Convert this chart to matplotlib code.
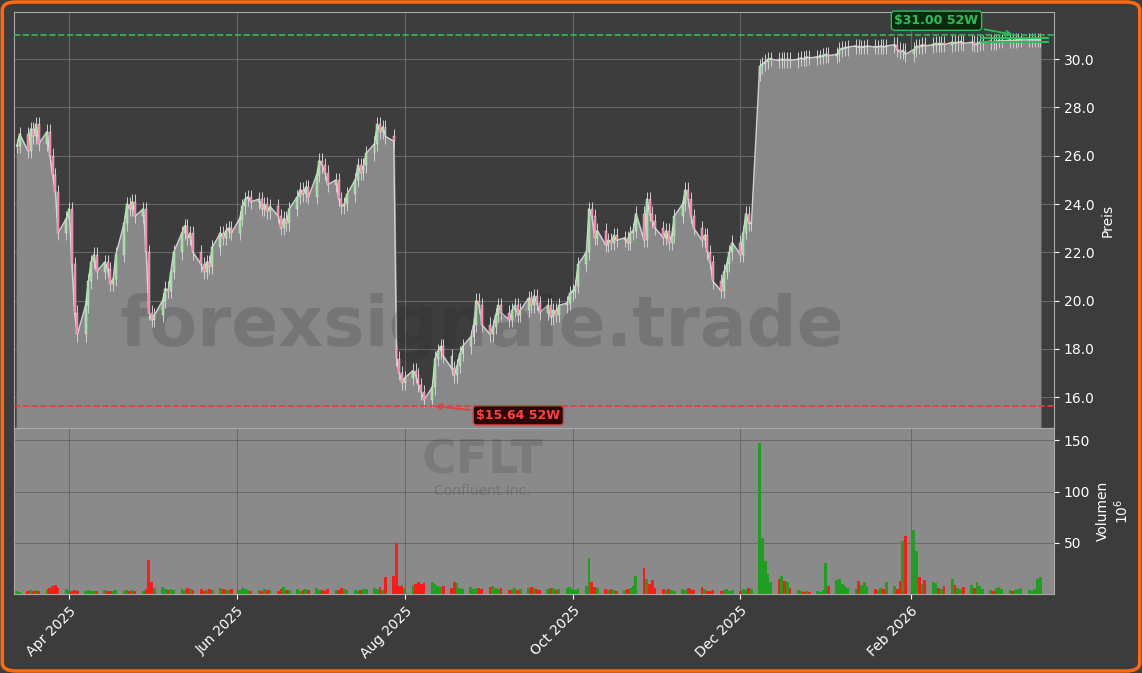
import matplotlib
matplotlib.use("Agg")
import matplotlib.pyplot as plt
import matplotlib.dates as mdates
from matplotlib.patches import FancyBboxPatch, Rectangle
import numpy as np
import pandas as pd

closes = [
26.4,26.9,26.2,27.1,26.8, 27.3,26.5,27.0,26.0,25.2, 24.5,22.8,23.4,23.8,21.5,
19.5,18.6,19.8,20.8,21.6, 21.9,21.2,21.6,21.3,20.7, 20.9,21.9,23.2,24.0,23.8,
24.1,23.5,23.8,22.0,19.5, 19.2,19.4,20.0,20.5,20.4, 21.2,22.0,22.8,23.1,22.6,
22.8,22.0,21.5,21.2,21.6, 21.4,22.2,22.8,22.6,22.9, 23.0,22.8,23.4,23.9,24.2,
24.3,24.1,24.2,23.8,24.0, 23.7,23.9,23.5,23.0,23.4, 23.2,23.8,24.3,24.6,24.4,
24.7,24.3,25.2,25.8,25.6, 25.3,24.8,25.0,24.2,23.9, 24.0,24.4,25.0,25.6,25.3,
25.6,26.1,26.5,27.3,27.0, 27.2,26.8,26.6,17.6,17.0, 16.6,16.8,17.1,16.9,16.5,
16.2,15.9,16.4,17.6,17.9, 18.1,17.7,17.2,16.9,17.3, 17.8,18.1,18.5,19.0,20.0,
19.8,19.0,18.6,18.9,19.4, 19.8,19.5,19.2,19.6,19.8, 19.4,19.6,20.1,19.8,20.2,
19.9,19.5,19.8,19.3,19.6, 19.4,19.8,19.9,20.3,20.4, 20.6,21.5,22.0,23.8,23.5,
22.6,22.9,22.3,22.5,22.4, 22.7,22.5,22.6,22.4,22.8, 22.9,23.6,22.5,24.2,23.6,
23.3,23.0,22.6,22.9,22.4, 22.7,23.5,24.0,24.6,24.2, 23.5,23.0,22.5,22.7,22.0,
21.6,20.8,20.4,21.2,21.5, 22.0,22.4,21.9,22.8,23.6, 23.2,23.2,29.7,29.8,29.9,
30.0,30.0,29.95,30.0,29.95, 30.0,29.95,30.0,30.05,30.0, 30.1,30.05,30.1,30.1,30.15,
30.2,30.15,30.2,30.4,30.45, 30.45,30.5,30.55,30.5,30.5, 30.5,30.55,30.5,30.5,30.55,
30.5,30.55,30.6,30.4,30.3, 30.35,30.2,30.4,30.55,30.5, 30.6,30.55,30.6,30.65,30.6,
30.65,30.6,30.7,30.65,30.7, 30.7,30.65,30.7,30.6,30.65, 30.7,30.7,30.75,30.7,30.75,
30.75,30.75,30.8,30.75,30.8, 30.8,30.8,30.8,30.8,30.8, 30.8,30.8]

volumes = [
3,2,3,4,3, 4,3,5,6,8, 9,6,5,4,3, 4,3,3,4,3, 3,3,4,3,3, 3,4,3,4,3,
4,3,3,5,33, 12,6,7,5,4, 5,4,5,4,6, 5,4,5,3,4, 5,4,6,5,4, 4,5,4,6,5,
4,3,4,3,5, 4,4,3,5,7, 4,4,5,3,4, 5,4,6,4,4, 3,5,4,4,6, 5,4,4,3,4,
5,5,6,5,7, 4,17,18,50,8, 8,6,9,10,12, 10,11,12,10,8, 7,8,6,12,11, 6,5,7,5,6,
6,5,7,8,6, 5,6,4,5,6, 4,5,6,7,6, 5,4,5,6,6, 4,5,6,7,5, 4,6,8,35,12,
7,6,5,4,5, 4,3,4,5,6, 8,18,25,15,10, 14,6,5,4,5, 4,3,5,4,6, 5,4,7,5,3,
3,4,3,4,5, 3,4,3,5,4, 6,5,147,55,32, 20,12,15,18,13, 12,6,4,3,2, 3,2,3,2,4,
30,8,14,15,10, 8,6,5,13,9, 12,7,5,4,6, 5,12,8,5,13, 52,57,62,42,17, 10,14,12,11,6,
5,8,15,9,6, 5,7,9,6,12, 8,5,4,3,6, 7,5,4,3,4, 5,6,4,3,5, 15,17]

n = len(closes)
dates = pd.bdate_range("2025-03-13", periods=n)
x = mdates.date2num(dates)
opens = [closes[0]] + closes[:-1]
gap_days = [98, 192]
for g in gap_days:
    opens[g] = closes[g] + (0.5 if closes[g] < closes[g-1] else -0.3)
low52, high52 = 15.64, 31.00

bg = "#3c3c3c"
fig = plt.figure(figsize=(11.42, 6.73), dpi=100, facecolor=bg)
axp = fig.add_axes([0.0123, 0.364, 0.9107, 0.618])
axv = fig.add_axes([0.0123, 0.1174, 0.9107, 0.2466], sharex=axp)
axp.set_facecolor("#3d3d3d")
axv.set_facecolor("#8a8a8a")

c = np.array(closes)
axp.fill_between(x, c, 14.72, color="#888888", zorder=1)
axp.plot(x, c, color="#d0d0d0", lw=1.0, zorder=2)
for xi, o, cl in zip(x, opens, closes):
    up = cl >= o
    col = "#8ee08e" if up else "#ff6f9c"
    hi = max(o, cl) + 0.3
    lo = min(o, cl) - 0.3
    axp.vlines(xi, lo, hi, color="#cfcfcf", lw=0.7, zorder=3)
    h = max(abs(cl - o), 0.06)
    axp.add_patch(Rectangle((xi - 0.35, min(o, cl)), 0.7, h, facecolor=col,
                            edgecolor="#eeeeee", lw=0.3, zorder=4))

axp.axhline(low52, color="#e04040", ls="--", lw=1.2, zorder=5)
axp.axhline(high52, color="#2ebd5a", ls="--", lw=1.2, zorder=5)
axp.hlines([30.87, 30.70], x[250], x[-1] + 3, color="#2ebd5a", lw=1.5, zorder=5)

axp.annotate(f"${low52:.2f} 52W", xy=(x[107], low52), xytext=(x[119], 15.1),
             color="#ff4040", fontsize=9, fontweight="bold",
             bbox=dict(boxstyle="round,pad=0.25", fc="#2a0505", ec="#e04040"),
             arrowprops=dict(arrowstyle="->", color="#e04040", lw=1.3), zorder=6)
axp.annotate(f"${high52:.2f} 52W", xy=(x[259], high52), xytext=(x[227], 31.45),
             color="#2ebd5a", fontsize=9, fontweight="bold",
             bbox=dict(boxstyle="round,pad=0.25", fc="#052a10", ec="#2ebd5a"),
             arrowprops=dict(arrowstyle="->", color="#2ebd5a", lw=1.3), zorder=6)

axp.text(0.45, 0.245, "forexsignale.trade", transform=axp.transAxes, fontsize=50,
         fontweight="bold", color="#222222", alpha=0.18, ha="center", va="center", zorder=2.5)
axv.text(0.45, 0.8, "CFLT", transform=axv.transAxes, fontsize=34, fontweight="bold",
         color="#222222", alpha=0.15, ha="center", va="center")
axv.text(0.45, 0.62, "Confluent Inc.", transform=axv.transAxes, fontsize=10,
         color="#222222", alpha=0.2, ha="center", va="center")

vcol = ["#1f9e1f" if cl >= o else "#ff1a1a" for o, cl in zip(opens, closes)]
axv.bar(x, volumes, width=1.0, color=vcol)

for ax in (axp, axv):
    ax.yaxis.tick_right()
    ax.yaxis.set_label_position("right")
    ax.grid(True, color="#6a6a6a", lw=0.7)
    ax.set_axisbelow(True)
    ax.tick_params(colors="white", labelsize=10)
    for s in ax.spines.values():
        s.set_color("#aaaaaa")
axp.set_ylim(14.72, 31.95)
axp.set_yticks([16, 18, 20, 22, 24, 26, 28, 30])
axp.yaxis.set_major_formatter(matplotlib.ticker.FormatStrFormatter("%.1f"))
axp.set_ylabel("Preis", color="white")
axv.set_ylim(0, 162)
axv.set_yticks([50, 100, 150])
axv.set_ylabel("Volumen\n$10^6$", color="white")
axp.tick_params(axis="x", labelbottom=False)
axv.set_xlim(mdates.date2num(pd.Timestamp("2025-03-12")), mdates.date2num(pd.Timestamp("2026-03-25")))
axv.xaxis.set_major_locator(mdates.MonthLocator(bymonth=[2, 4, 6, 8, 10, 12]))
axv.xaxis.set_major_formatter(mdates.DateFormatter("%b %Y"))
plt.setp(axv.get_xticklabels(), rotation=45, ha="right", rotation_mode="anchor")

fig.patches.append(FancyBboxPatch((0.002, 0.003), 0.996, 0.994, boxstyle="round,pad=0,rounding_size=0.012",
                                  transform=fig.transFigure, fill=False, ec="#ff6a10", lw=2.5))
fig.savefig("out.png", dpi=100, facecolor=bg)
